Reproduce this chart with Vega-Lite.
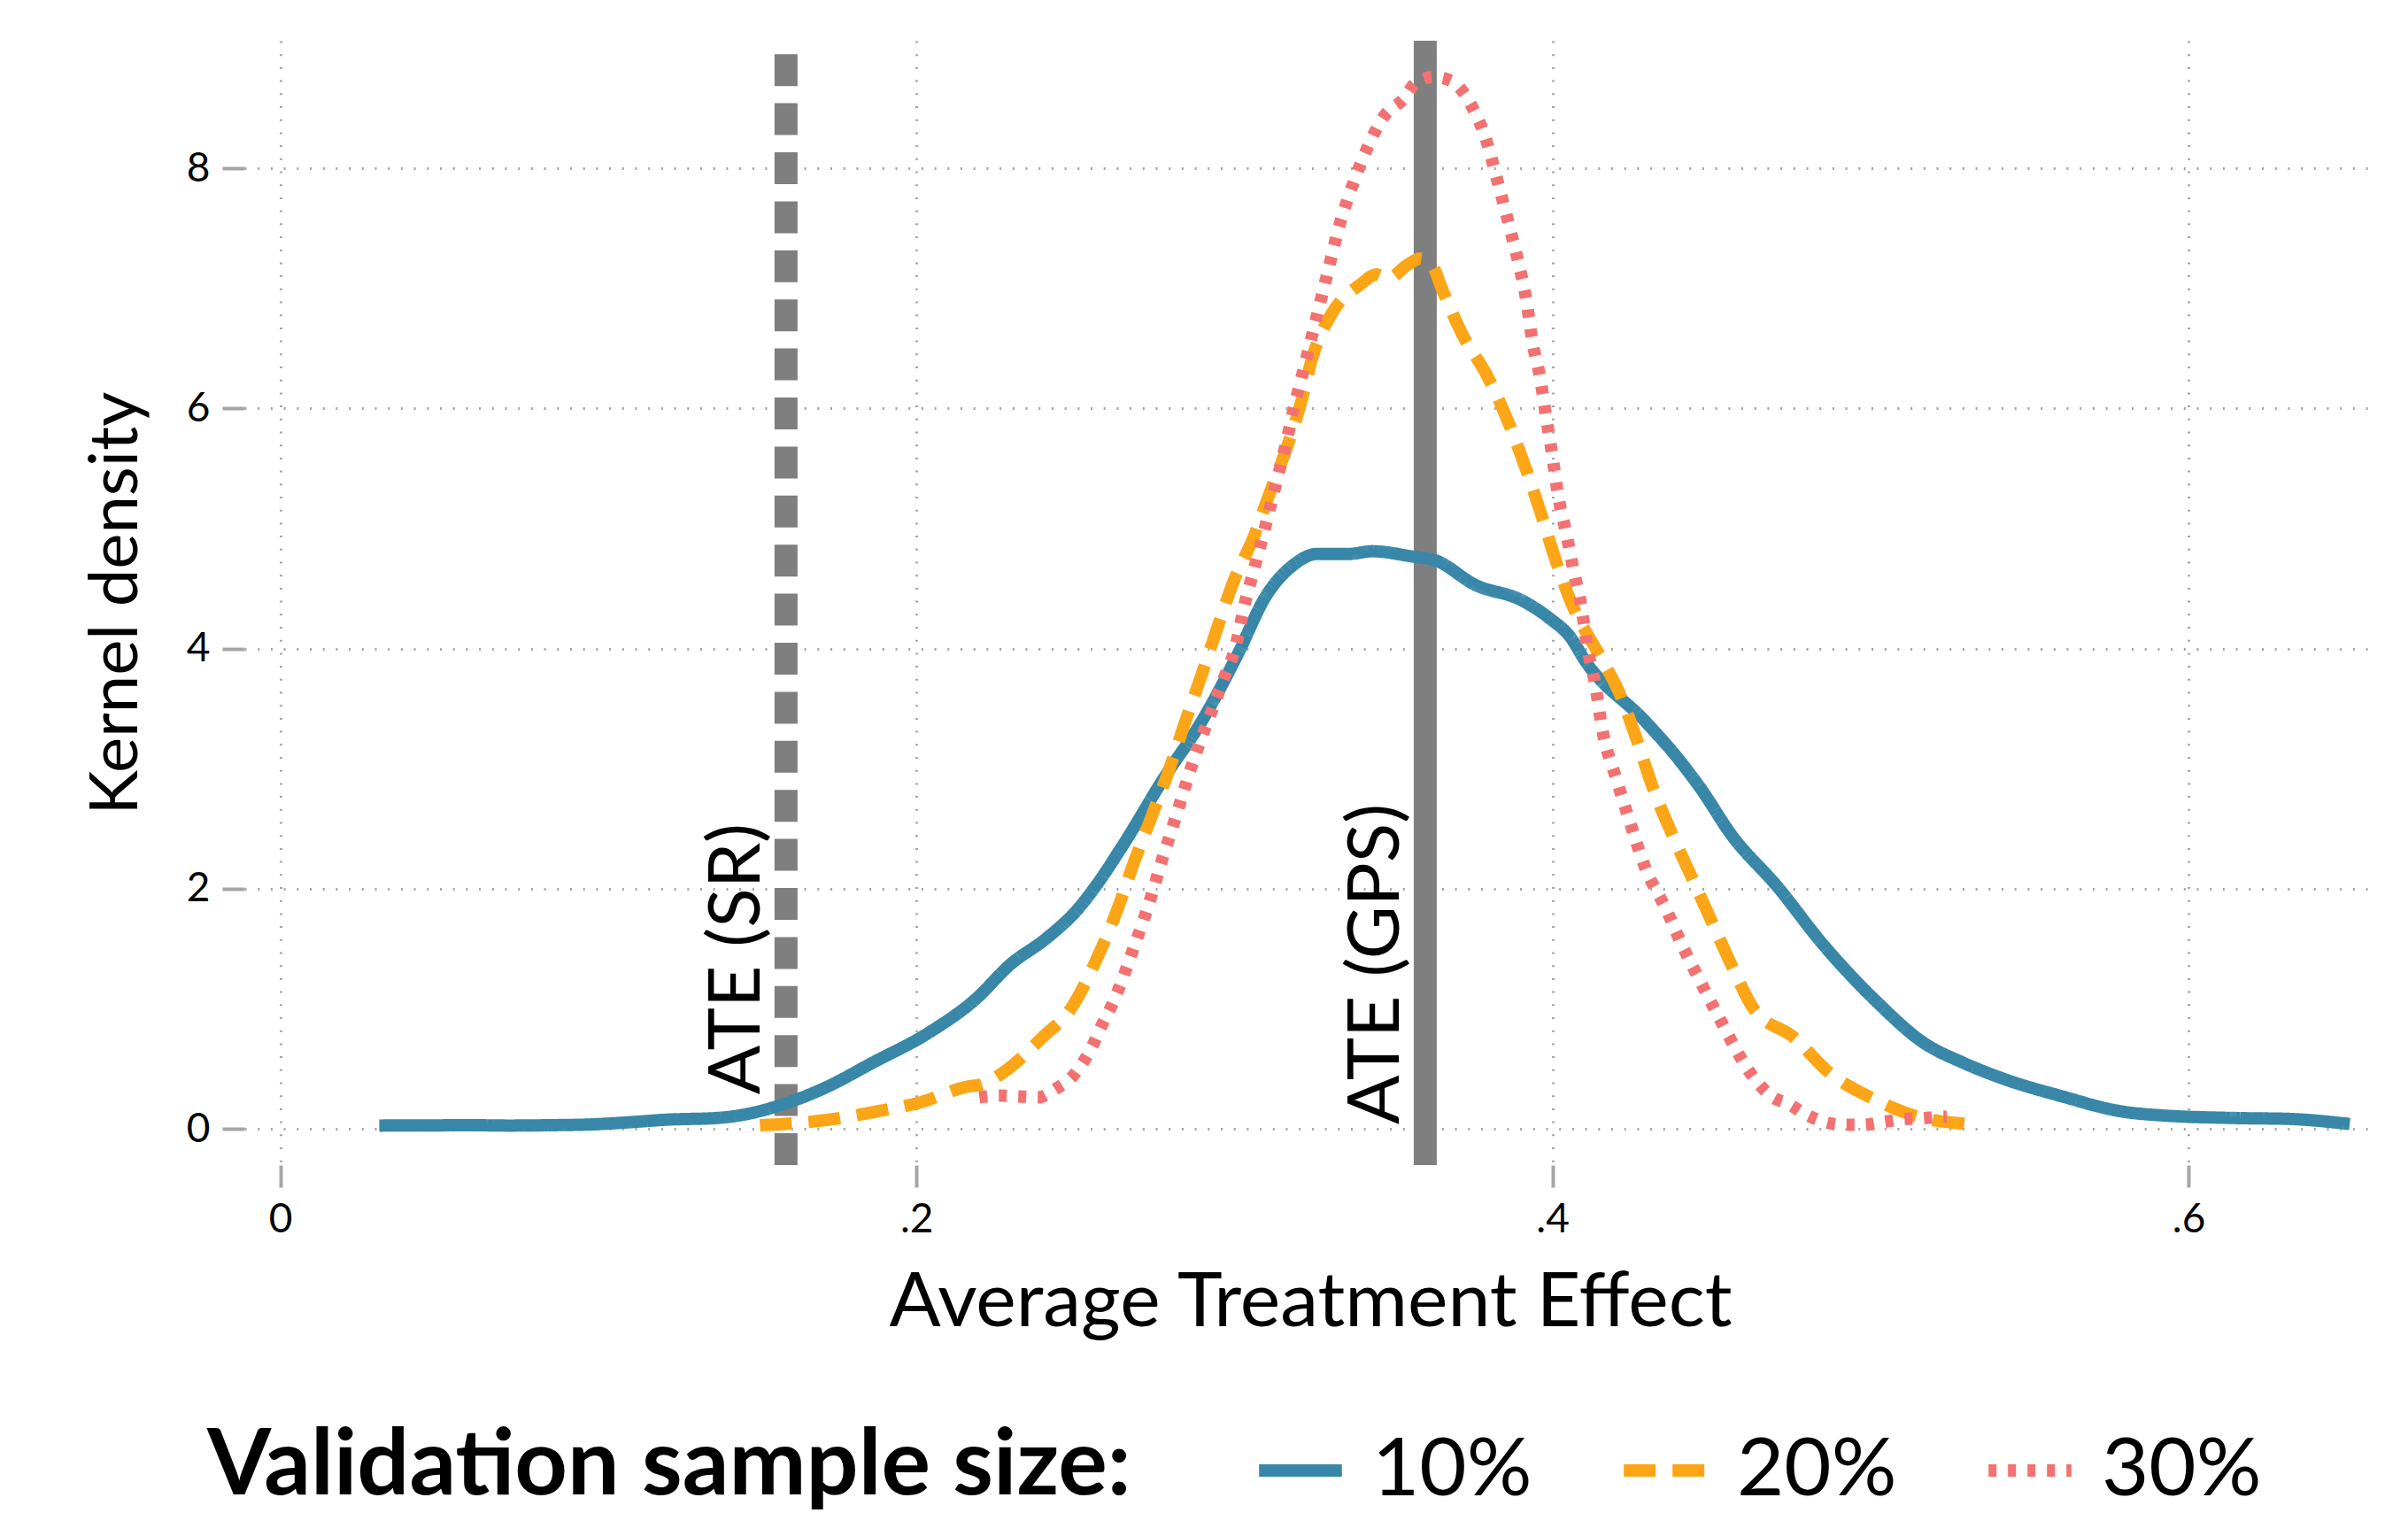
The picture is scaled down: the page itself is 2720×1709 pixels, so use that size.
{
  "$schema": "https://vega.github.io/schema/vega-lite/v6.json",
  "width": 2408,
  "height": 1270,
  "autosize": {"type": "none"},
  "padding": {"left": 276, "top": 46, "right": 36, "bottom": 393},
  "background": "white",
  "config": {
    "view": {"stroke": null},
    "font": "Lato",
    "axis": {
      "domain": false,
      "tickColor": "#a6a6a6",
      "tickWidth": 4,
      "tickSize": 25,
      "grid": true,
      "gridColor": "#a6a6a6",
      "gridWidth": 3,
      "gridDash": [2, 12.7],
      "labelFont": "Lato",
      "labelFontSize": 46,
      "labelColor": "black",
      "labelPadding": 14,
      "labelFlush": false,
      "titleFont": "Lato",
      "titleFontWeight": "normal",
      "titleColor": "black"
    },
    "axisX": {"labelAngle": 0, "titlePadding": 29, "titleFontSize": 86},
    "axisY": {"labelAngle": 0, "titlePadding": 40, "titleFontSize": 76},
    "legend": {
      "orient": "none",
      "legendX": -42,
      "legendY": 1561,
      "direction": "horizontal",
      "titleOrient": "left",
      "titleFont": "Lato",
      "titleFontSize": 104,
      "titleFontWeight": "bold",
      "titleColor": "black",
      "titleLimit": 3000,
      "titlePadding": 137,
      "titleAnchor": "middle",
      "titleBaseline": "middle",
      "labelFont": "Lato",
      "labelFontSize": 92,
      "labelColor": "black",
      "labelLimit": 2000,
      "labelOffset": 27,
      "symbolType": "stroke",
      "symbolSize": 8760,
      "symbolStrokeWidth": 14,
      "columnPadding": 75,
      "padding": 0
    }
  },
  "datasets": {
    "refs": [
      {"label": "ATE (SR)", "ate": 0.159},
      {"label": "ATE (GPS)", "ate": 0.36}
    ],
    "curves": [
      {"series": "10%", "x": 0.0311, "y": 0.027},
      {"series": "10%", "x": 0.045, "y": 0.028},
      {"series": "10%", "x": 0.06, "y": 0.03},
      {"series": "10%", "x": 0.0717, "y": 0.027},
      {"series": "10%", "x": 0.085, "y": 0.03},
      {"series": "10%", "x": 0.0982, "y": 0.037},
      {"series": "10%", "x": 0.11, "y": 0.055},
      {"series": "10%", "x": 0.1213, "y": 0.076},
      {"series": "10%", "x": 0.1373, "y": 0.09},
      {"series": "10%", "x": 0.148, "y": 0.13},
      {"series": "10%", "x": 0.1564, "y": 0.19},
      {"series": "10%", "x": 0.1713, "y": 0.342},
      {"series": "10%", "x": 0.1862, "y": 0.55},
      {"series": "10%", "x": 0.2036, "y": 0.796},
      {"series": "10%", "x": 0.2185, "y": 1.077},
      {"series": "10%", "x": 0.2297, "y": 1.373},
      {"series": "10%", "x": 0.2409, "y": 1.587},
      {"series": "10%", "x": 0.2509, "y": 1.834},
      {"series": "10%", "x": 0.2571, "y": 2.048},
      {"series": "10%", "x": 0.2645, "y": 2.344},
      {"series": "10%", "x": 0.2782, "y": 2.937},
      {"series": "10%", "x": 0.2894, "y": 3.381},
      {"series": "10%", "x": 0.301, "y": 3.95},
      {"series": "10%", "x": 0.3098, "y": 4.433},
      {"series": "10%", "x": 0.3185, "y": 4.696},
      {"series": "10%", "x": 0.3259, "y": 4.788},
      {"series": "10%", "x": 0.3359, "y": 4.788},
      {"series": "10%", "x": 0.3433, "y": 4.811},
      {"series": "10%", "x": 0.3557, "y": 4.768},
      {"series": "10%", "x": 0.3632, "y": 4.735},
      {"series": "10%", "x": 0.3756, "y": 4.532},
      {"series": "10%", "x": 0.3905, "y": 4.4},
      {"series": "10%", "x": 0.3992, "y": 4.25},
      {"series": "10%", "x": 0.4055, "y": 4.1},
      {"series": "10%", "x": 0.4104, "y": 3.893},
      {"series": "10%", "x": 0.429, "y": 3.399},
      {"series": "10%", "x": 0.439, "y": 3.1},
      {"series": "10%", "x": 0.4465, "y": 2.839},
      {"series": "10%", "x": 0.4564, "y": 2.444},
      {"series": "10%", "x": 0.4708, "y": 2.015},
      {"series": "10%", "x": 0.4845, "y": 1.554},
      {"series": "10%", "x": 0.5019, "y": 1.06},
      {"series": "10%", "x": 0.5168, "y": 0.715},
      {"series": "10%", "x": 0.5292, "y": 0.55},
      {"series": "10%", "x": 0.5417, "y": 0.418},
      {"series": "10%", "x": 0.5603, "y": 0.27},
      {"series": "10%", "x": 0.5789, "y": 0.145},
      {"series": "10%", "x": 0.5914, "y": 0.112},
      {"series": "10%", "x": 0.6162, "y": 0.089},
      {"series": "10%", "x": 0.6311, "y": 0.083},
      {"series": "10%", "x": 0.6507, "y": 0.04},
      {"series": "20%", "x": 0.1508, "y": 0.03},
      {"series": "20%", "x": 0.1713, "y": 0.072},
      {"series": "20%", "x": 0.1862, "y": 0.138},
      {"series": "20%", "x": 0.2012, "y": 0.22},
      {"series": "20%", "x": 0.2161, "y": 0.352},
      {"series": "20%", "x": 0.2204, "y": 0.369},
      {"series": "20%", "x": 0.2272, "y": 0.468},
      {"series": "20%", "x": 0.2397, "y": 0.764},
      {"series": "20%", "x": 0.2484, "y": 0.994},
      {"series": "20%", "x": 0.2571, "y": 1.439},
      {"series": "20%", "x": 0.2633, "y": 1.834},
      {"series": "20%", "x": 0.2683, "y": 2.212},
      {"series": "20%", "x": 0.2738, "y": 2.591},
      {"series": "20%", "x": 0.2794, "y": 2.986},
      {"series": "20%", "x": 0.2844, "y": 3.381},
      {"series": "20%", "x": 0.2894, "y": 3.76},
      {"series": "20%", "x": 0.2944, "y": 4.155},
      {"series": "20%", "x": 0.2998, "y": 4.564},
      {"series": "20%", "x": 0.306, "y": 4.926},
      {"series": "20%", "x": 0.311, "y": 5.288},
      {"series": "20%", "x": 0.3166, "y": 5.684},
      {"series": "20%", "x": 0.3209, "y": 6.046},
      {"series": "20%", "x": 0.3247, "y": 6.441},
      {"series": "20%", "x": 0.3309, "y": 6.803},
      {"series": "20%", "x": 0.3396, "y": 7.033},
      {"series": "20%", "x": 0.3446, "y": 7.116},
      {"series": "20%", "x": 0.3483, "y": 7.083},
      {"series": "20%", "x": 0.3545, "y": 7.198},
      {"series": "20%", "x": 0.3582, "y": 7.248},
      {"series": "20%", "x": 0.362, "y": 7.198},
      {"series": "20%", "x": 0.3657, "y": 6.967},
      {"series": "20%", "x": 0.3719, "y": 6.605},
      {"series": "20%", "x": 0.3794, "y": 6.276},
      {"series": "20%", "x": 0.3862, "y": 5.881},
      {"series": "20%", "x": 0.3918, "y": 5.486},
      {"series": "20%", "x": 0.3968, "y": 5.091},
      {"series": "20%", "x": 0.4011, "y": 4.729},
      {"series": "20%", "x": 0.4067, "y": 4.334},
      {"series": "20%", "x": 0.4142, "y": 3.972},
      {"series": "20%", "x": 0.4216, "y": 3.597},
      {"series": "20%", "x": 0.4266, "y": 3.235},
      {"series": "20%", "x": 0.4316, "y": 2.839},
      {"series": "20%", "x": 0.4378, "y": 2.444},
      {"series": "20%", "x": 0.444, "y": 2.082},
      {"series": "20%", "x": 0.4502, "y": 1.72},
      {"series": "20%", "x": 0.4564, "y": 1.358},
      {"series": "20%", "x": 0.4634, "y": 0.994},
      {"series": "20%", "x": 0.4758, "y": 0.764},
      {"series": "20%", "x": 0.487, "y": 0.468},
      {"series": "20%", "x": 0.5006, "y": 0.254},
      {"series": "20%", "x": 0.5143, "y": 0.105},
      {"series": "20%", "x": 0.528, "y": 0.046},
      {"series": "20%", "x": 0.5305, "y": 0.04},
      {"series": "30%", "x": 0.2198, "y": 0.263},
      {"series": "30%", "x": 0.226, "y": 0.276},
      {"series": "30%", "x": 0.2322, "y": 0.27},
      {"series": "30%", "x": 0.2384, "y": 0.263},
      {"series": "30%", "x": 0.244, "y": 0.336},
      {"series": "30%", "x": 0.249, "y": 0.434},
      {"series": "30%", "x": 0.2527, "y": 0.566},
      {"series": "30%", "x": 0.2558, "y": 0.715},
      {"series": "30%", "x": 0.2583, "y": 0.863},
      {"series": "30%", "x": 0.2614, "y": 1.027},
      {"series": "30%", "x": 0.2645, "y": 1.225},
      {"series": "30%", "x": 0.2676, "y": 1.455},
      {"series": "30%", "x": 0.2707, "y": 1.686},
      {"series": "30%", "x": 0.2738, "y": 1.933},
      {"series": "30%", "x": 0.2769, "y": 2.212},
      {"series": "30%", "x": 0.2801, "y": 2.476},
      {"series": "30%", "x": 0.2832, "y": 2.739},
      {"series": "30%", "x": 0.2863, "y": 3.002},
      {"series": "30%", "x": 0.29, "y": 3.282},
      {"series": "30%", "x": 0.2931, "y": 3.496},
      {"series": "30%", "x": 0.2968, "y": 3.76},
      {"series": "30%", "x": 0.2999, "y": 3.973},
      {"series": "30%", "x": 0.3035, "y": 4.4},
      {"series": "30%", "x": 0.3067, "y": 4.712},
      {"series": "30%", "x": 0.3098, "y": 5.025},
      {"series": "30%", "x": 0.3129, "y": 5.355},
      {"series": "30%", "x": 0.316, "y": 5.684},
      {"series": "30%", "x": 0.3185, "y": 5.98},
      {"series": "30%", "x": 0.3216, "y": 6.309},
      {"series": "30%", "x": 0.3247, "y": 6.639},
      {"series": "30%", "x": 0.329, "y": 7.1},
      {"series": "30%", "x": 0.3334, "y": 7.561},
      {"series": "30%", "x": 0.3371, "y": 7.857},
      {"series": "30%", "x": 0.3415, "y": 8.153},
      {"series": "30%", "x": 0.347, "y": 8.433},
      {"series": "30%", "x": 0.3533, "y": 8.581},
      {"series": "30%", "x": 0.357, "y": 8.713},
      {"series": "30%", "x": 0.3626, "y": 8.762},
      {"series": "30%", "x": 0.3682, "y": 8.729},
      {"series": "30%", "x": 0.3725, "y": 8.614},
      {"series": "30%", "x": 0.3756, "y": 8.466},
      {"series": "30%", "x": 0.3781, "y": 8.318},
      {"series": "30%", "x": 0.3831, "y": 7.857},
      {"series": "30%", "x": 0.3862, "y": 7.543},
      {"series": "30%", "x": 0.3893, "y": 7.215},
      {"series": "30%", "x": 0.3918, "y": 6.902},
      {"series": "30%", "x": 0.3936, "y": 6.572},
      {"series": "30%", "x": 0.3961, "y": 6.26},
      {"series": "30%", "x": 0.398, "y": 5.931},
      {"series": "30%", "x": 0.3999, "y": 5.618},
      {"series": "30%", "x": 0.4017, "y": 5.288},
      {"series": "30%", "x": 0.4042, "y": 4.976},
      {"series": "30%", "x": 0.4067, "y": 4.647},
      {"series": "30%", "x": 0.4092, "y": 4.334},
      {"series": "30%", "x": 0.411, "y": 4.004},
      {"series": "30%", "x": 0.4135, "y": 3.695},
      {"series": "30%", "x": 0.4154, "y": 3.366},
      {"series": "30%", "x": 0.4204, "y": 2.889},
      {"series": "30%", "x": 0.4241, "y": 2.576},
      {"series": "30%", "x": 0.4291, "y": 2.18},
      {"series": "30%", "x": 0.4359, "y": 1.819},
      {"series": "30%", "x": 0.4409, "y": 1.522},
      {"series": "30%", "x": 0.4465, "y": 1.226},
      {"series": "30%", "x": 0.452, "y": 0.946},
      {"series": "30%", "x": 0.4576, "y": 0.667},
      {"series": "30%", "x": 0.4609, "y": 0.517},
      {"series": "30%", "x": 0.4645, "y": 0.386},
      {"series": "30%", "x": 0.4689, "y": 0.27},
      {"series": "30%", "x": 0.4745, "y": 0.204},
      {"series": "30%", "x": 0.4795, "y": 0.122},
      {"series": "30%", "x": 0.4857, "y": 0.056},
      {"series": "30%", "x": 0.4913, "y": 0.033},
      {"series": "30%", "x": 0.4975, "y": 0.033},
      {"series": "30%", "x": 0.5037, "y": 0.056},
      {"series": "30%", "x": 0.51, "y": 0.079},
      {"series": "30%", "x": 0.5162, "y": 0.088},
      {"series": "30%", "x": 0.5224, "y": 0.099},
      {"series": "30%", "x": 0.524, "y": 0.1}
    ]
  },
  "layer": [
    {
      "data": {"name": "curves"},
      "mark": {"type": "line", "strokeWidth": 14, "interpolate": "monotone", "opacity": 0},
      "encoding": {
        "x": {
          "field": "x",
          "type": "quantitative",
          "scale": {"domain": [-0.01133, 0.659], "nice": false, "zero": false},
          "axis": {
            "title": "Average Treatment Effect",
            "values": [0, 0.2, 0.4, 0.6],
            "labelExpr": "datum.value == 0 ? '0' : replace(format(datum.value, '.1f'), '0.', '.')"
          }
        },
        "y": {
          "field": "y",
          "type": "quantitative",
          "scale": {"domain": [-0.302, 9.063], "nice": false, "zero": false},
          "axis": {"title": "Kernel density", "values": [0, 2, 4, 6, 8], "format": "d"}
        },
        "color": {
          "field": "series",
          "type": "nominal",
          "title": "Validation sample size:",
          "scale": {"domain": ["10%", "20%", "30%"], "range": ["#3887a8", "#fca516", "#f37170"]}
        },
        "strokeDash": {
          "field": "series",
          "type": "nominal",
          "title": "Validation sample size:",
          "scale": {"domain": ["10%", "20%", "30%"], "range": [[1, 0], [36, 19], [9, 13]]}
        }
      }
    },
    {
      "mark": {"type": "rule", "color": "#a6a6a6", "strokeWidth": 4},
      "encoding": {
        "x": {"datum": -0.01133, "type": "quantitative"},
        "y": {"datum": 0, "type": "quantitative"},
        "y2": {"datum": 8}
      }
    },
    {
      "mark": {"type": "rule", "color": "#a6a6a6", "strokeWidth": 4},
      "encoding": {
        "x": {"datum": 0, "type": "quantitative"},
        "x2": {"datum": 0.6},
        "y": {"datum": -0.302, "type": "quantitative"}
      }
    },
    {
      "data": {"name": "refs"},
      "transform": [{"filter": "datum.label == 'ATE (SR)'"}],
      "mark": {"type": "rule", "color": "#7f7f7f", "strokeWidth": 26, "strokeDash": [36, 19.4]},
      "encoding": {
        "x": {"field": "ate", "type": "quantitative"},
        "y": {"datum": -0.302, "type": "quantitative"},
        "y2": {"datum": 9.063}
      }
    },
    {
      "data": {"name": "refs"},
      "transform": [{"filter": "datum.label == 'ATE (GPS)'"}],
      "mark": {"type": "rule", "color": "#7f7f7f", "strokeWidth": 26},
      "encoding": {
        "x": {"field": "ate", "type": "quantitative"},
        "y": {"datum": -0.302, "type": "quantitative"},
        "y2": {"datum": 9.063}
      }
    },
    {
      "data": {"name": "refs"},
      "transform": [{"filter": "datum.label == 'ATE (SR)'"}],
      "mark": {"type": "text", "angle": 270, "align": "left", "baseline": "alphabetic", "dx": 5, "dy": -30, "fontSize": 82, "font": "Lato", "color": "black"},
      "encoding": {
        "x": {"field": "ate", "type": "quantitative"},
        "y": {"datum": 0.25, "type": "quantitative"},
        "text": {"field": "label"}
      }
    },
    {
      "data": {"name": "refs"},
      "transform": [{"filter": "datum.label == 'ATE (GPS)'"}],
      "mark": {"type": "text", "angle": 270, "align": "left", "baseline": "alphabetic", "dx": 5, "dy": -30, "fontSize": 82, "font": "Lato", "color": "black"},
      "encoding": {
        "x": {"field": "ate", "type": "quantitative"},
        "y": {"datum": 0, "type": "quantitative"},
        "text": {"field": "label"}
      }
    },
    {
      "data": {"name": "curves"},
      "mark": {"type": "line", "strokeWidth": 14, "interpolate": "monotone"},
      "encoding": {
        "x": {"field": "x", "type": "quantitative"},
        "y": {"field": "y", "type": "quantitative"},
        "color": {"field": "series", "type": "nominal", "title": "Validation sample size:"},
        "strokeDash": {"field": "series", "type": "nominal", "title": "Validation sample size:"}
      }
    }
  ]
}
